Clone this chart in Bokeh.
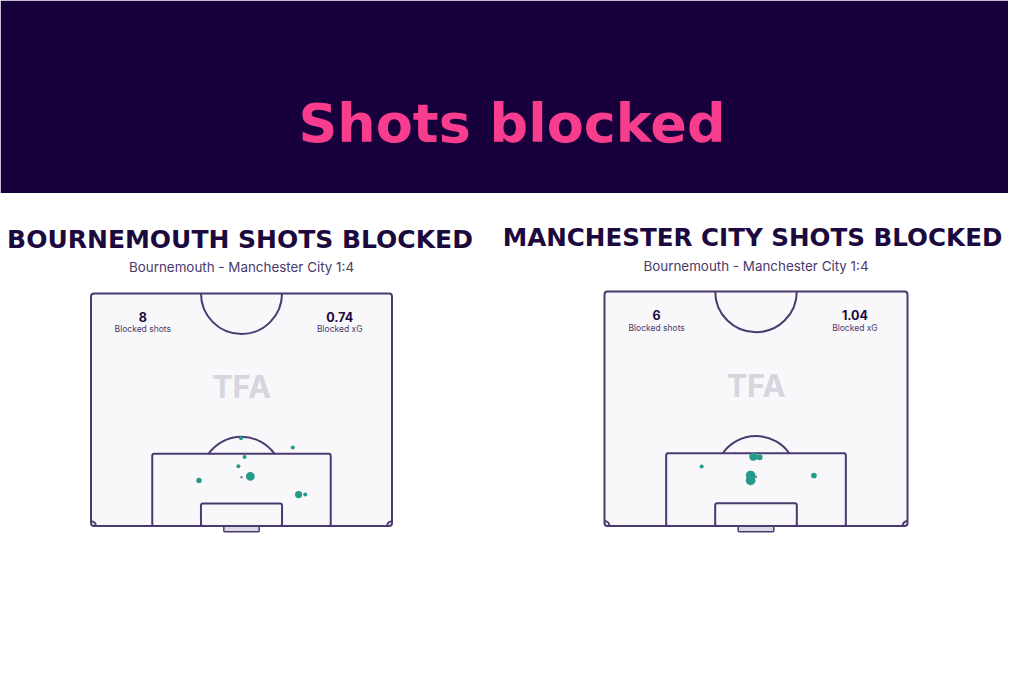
import numpy as np
from bokeh.plotting import figure
from bokeh.models import Range1d
from bokeh.core.properties import value
from bokeh.embed import file_html
from bokeh.resources import INLINE

# ---------------- data ----------------
HEADER = "Shots blocked"
TITLES = ["BOURNEMOUTH SHOTS BLOCKED", "MANCHESTER CITY SHOTS BLOCKED"]
SUBTITLE = "Bournemouth - Manchester City 1:4"
STAT_LABELS = ["Blocked shots", "Blocked xG"]
WATERMARK = "TFA"

# shot locations in metres: x across pitch (0-68), y from goal line (0) up to halfway (52.5)
bou_x = [33.9, 45.6, 34.7, 33.3, 36.0, 24.4, 46.9, 48.4]
bou_y = [19.8, 17.7, 15.6, 13.5, 11.2, 10.3, 7.1, 7.1]
bou_xg = [0.05, 0.05, 0.05, 0.05, 0.24, 0.09, 0.16, 0.05]

mci_x = [33.4, 34.8, 21.8, 32.8, 32.8, 47.0]
mci_y = [15.5, 15.4, 13.3, 11.3, 10.2, 11.3]
mci_xg = [0.20, 0.11, 0.05, 0.29, 0.29, 0.10]

# ---------------- style ----------------
BG_HEADER = "#18003c"
PINK = "#f83d8e"
NAVY = "#1c0a3e"
LINE = "#4b3a70"
SUB = "#4a3a6c"
PITCH_FILL = "#f8f8fa"
DOT = "#27998a"
WM = "#d7d5de"

W, H = 1008, 667
p = figure(width=W, height=H, x_range=Range1d(0, W), y_range=Range1d(H, 0),
           output_backend="svg", toolbar_location=None, min_border=0,
           x_axis_type=None, y_axis_type=None, outline_line_color=None,
           background_fill_color="white", border_fill_color="white")
p.grid.visible = False

# header band
p.quad(left=[0], right=[1024], top=[0], bottom=[192.5], fill_color=BG_HEADER, line_color=None)
p.text(x=[511.5], y=[122.5], text=[HEADER], text_font=value("DejaVu Sans"), text_font_style="bold",
       text_font_size="54px", text_color=PINK, text_align="center", text_baseline="alphabetic")

panels = [
    dict(key="l", x0=90.5, ytop=293.0, ygoal=525.5, w=301.0, cx=239.5, ty=239.3, sy_=266.5, fs="25px",
         sx=bou_x, sy=bou_y, xg=bou_xg, title=TITLES[0]),
    dict(key="r", x0=604.0, ytop=291.0, ygoal=525.5, w=303.0, cx=752.0, ty=236.5, sy_=265.5, fs="24.6px",
         sx=mci_x, sy=mci_y, xg=mci_xg, title=TITLES[1]),
]

PL, PW = 52.5, 68.0

for pn in panels:
    # titles (page coordinates)
    p.text(x=[pn["cx"]], y=[pn["ty"]], text=[pn["title"]], text_font=value("DejaVu Sans"),
           text_font_style="bold", text_font_size=pn["fs"], text_color=NAVY,
           text_align="center", text_baseline="alphabetic")
    sub_cx = 241.0 if pn["key"] == "l" else 755.5
    p.text(x=[sub_cx], y=[pn["sy_"]], text=[SUBTITLE], text_font=value("Inter"),
           text_font_size="13.4px", text_color=SUB, text_align="center", text_baseline="alphabetic")

    # pitch scale ranges
    kx = pn["w"] / PW
    ky = (pn["ygoal"] - pn["ytop"]) / PL
    xr, yr = pn["key"] + "x", pn["key"] + "y"
    p.extra_x_ranges[xr] = Range1d((0 - pn["x0"]) / kx, (W - pn["x0"]) / kx)
    p.extra_y_ranges[yr] = Range1d((pn["ygoal"] - H) / ky, (pn["ygoal"] - 0) / ky)
    kw = dict(x_range_name=xr, y_range_name=yr)

    # goal
    p.quad(left=[30.0], right=[38.0], bottom=[-1.3], top=[0], fill_color="#dcd7e5",
           line_color=LINE, line_width=1.5, border_radius=1, **kw)
    # pitch outline
    p.quad(left=[0], right=[PW], bottom=[0], top=[PL], fill_color=PITCH_FILL,
           line_color=LINE, line_width=2, border_radius=3, **kw)
    # penalty box & six-yard box
    p.quad(left=[34 - 20.16], right=[34 + 20.16], bottom=[0], top=[16.3], fill_color=None,
           line_color=LINE, line_width=2, border_radius=2, **kw)
    p.quad(left=[34 - 9.16], right=[34 + 9.16], bottom=[0], top=[5.1], fill_color=None,
           line_color=LINE, line_width=2, border_radius=2, **kw)
    # centre circle (lower half)
    p.arc(x=[34], y=[PL], radius=9.15, start_angle=np.pi, end_angle=2 * np.pi,
          line_color=LINE, line_width=2, **kw)
    # penalty arc
    th = np.arcsin((16.3 - 11) / 9.15)
    p.arc(x=[34], y=[11], radius=9.15, start_angle=th, end_angle=np.pi - th,
          line_color=LINE, line_width=2, **kw)
    # corner arcs
    p.arc(x=[0], y=[0], radius=1.1, start_angle=0, end_angle=np.pi / 2,
          line_color=LINE, line_width=2, **kw)
    p.arc(x=[PW], y=[0], radius=1.1, start_angle=np.pi / 2, end_angle=np.pi,
          line_color=LINE, line_width=2, **kw)
    # penalty spot
    p.scatter(x=[34], y=[11], size=2.5, fill_color="#8a80a0", line_color=None, **kw)

    # watermark
    p.text(x=[34], y=[31.45], text=[WATERMARK], text_font=value("Inter"), text_font_style="bold",
           text_font_size="31px", text_color=WM, text_align="center", text_baseline="alphabetic", **kw)

    # stats
    n = len(pn["sx"])
    xg_sum = sum(pn["xg"])
    p.text(x=[11.7, 56.2], y=[47.3, 47.3], text=[str(n), f"{xg_sum:.2f}"], text_font=value("Inter"),
           text_font_style="bold", text_font_size="12.5px", text_color=NAVY,
           text_align="center", text_baseline="alphabetic", **kw)
    p.text(x=[11.7, 56.2], y=[44.4, 44.4], text=STAT_LABELS, text_font=value("Inter"),
           text_font_size="8.5px", text_color=SUB, text_align="center", text_baseline="alphabetic", **kw)

    # shots
    sizes = [18 * np.sqrt(v) for v in pn["xg"]]
    p.scatter(x=pn["sx"], y=pn["sy"], size=sizes, fill_color=DOT, line_color=None, **kw)

open("out.html", "w").write(file_html(p, INLINE))
